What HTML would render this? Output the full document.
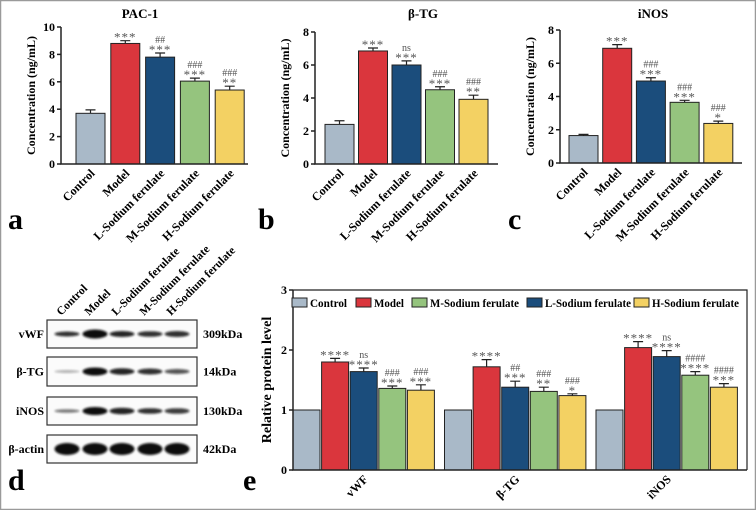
<!DOCTYPE html>
<html><head><meta charset="utf-8">
<style>
html,body{margin:0;padding:0;background:#fff;}
svg{display:block;font-family:"Liberation Serif",serif;font-weight:bold;}
</style></head>
<body>
<svg id="fig" width="756" height="510" viewBox="0 0 756 510" xmlns="http://www.w3.org/2000/svg">
<defs><filter id="blur" x="-20%" y="-50%" width="140%" height="200%"><feGaussianBlur stdDeviation="1.1"/></filter></defs>
<rect x="0.5" y="0.5" width="755" height="509" fill="#fff" stroke="#9a9a9a" stroke-width="1.5"/>
<g id="root"></g>
</svg>
<script>
const groups = ["Control","Model","L-Sodium ferulate","M-Sodium ferulate","H-Sodium ferulate"];
const colors = ["#a9b9c8","#da363d","#1b4d7c","#95c47e","#f3d163"];
const pacValues = [3.7, 8.8, 7.8, 6.05, 5.4];
const pacErrors = [0.25, 0.2, 0.3, 0.22, 0.28];
const pacMarks = ["", "***", "##\n***", "###\n***", "###\n**"];
const btgValues = [2.4, 6.85, 6.0, 4.5, 3.92];
const btgErrors = [0.22, 0.18, 0.25, 0.18, 0.25];
const btgMarks = ["", "***", "ns\n***", "###\n***", "###\n**"];
const inosValues = [1.65, 6.9, 4.93, 3.65, 2.38];
const inosErrors = [0.07, 0.22, 0.2, 0.12, 0.14];
const inosMarks = ["", "***", "###\n***", "###\n***", "###\n*"];
const proteinCats = ["vWF","β-TG","iNOS"];
const legendNames = ["Control","Model","M-Sodium ferulate","L-Sodium ferulate","H-Sodium ferulate"];
const legendColors = ["#a9b9c8","#da363d","#95c47e","#1b4d7c","#f3d163"];
const relValues = [[1,1.8,1.64,1.36,1.33],[1,1.72,1.38,1.31,1.24],[1,2.04,1.89,1.58,1.38]];
const relErrors = [[0,0.06,0.06,0.04,0.09],[0,0.12,0.1,0.07,0.03],[0,0.1,0.1,0.06,0.06]];
const relMarks = [["","****","ns\n****","###\n***","###\n***"],["","****","##\n***","###\n**","###\n*"],["","****","ns\n****","####\n****","####\n***"]];

const NS="http://www.w3.org/2000/svg";
const root=document.getElementById('root');
function mk(tag,attrs,parent,text){const e=document.createElementNS(NS,tag);for(const k in attrs)e.setAttribute(k,attrs[k]);if(text!==undefined)e.textContent=text;(parent||root).appendChild(e);return e;}

function marks(g,str,cx,ytop){
  const lines=str.split("\n");
  let yy=ytop-2;
  for(let i=lines.length-1;i>=0;i--){
    const s=lines[i];
    const star=s.indexOf('*')>=0;
    const t=mk('text',{x:cx,y:star?yy+3:yy,'text-anchor':'middle','font-size':star?13:10,fill:'#555','font-weight':'normal','font-family':'Liberation Serif','letter-spacing':star?'1':'0'},g,s);
    
    
    yy-=star?8:9;
  }
}

function panel(cfg){
  const g=mk('g',{});
  
  
  const y=v=>cfg.y0-(v/cfg.ymax)*(cfg.y0-cfg.ytop);
  const x=i=>cfg.x0+cfg.first+i*cfg.step;
  const t=mk('text',{x:cfg.titleX,y:18,'text-anchor':'middle','font-size':13},g,cfg.title);
  
  cfg.values.forEach((v,i)=>{
    const r=mk('rect',{x:x(i),y:y(v),width:cfg.bw,height:cfg.y0-y(v),fill:colors[i],stroke:'#222','stroke-width':1},g);
    
    
    const cx=x(i)+cfg.bw/2, ye=y(v+cfg.errors[i]);
    const e=mk('path',{d:`M${cx},${y(v)}V${ye}M${cx-5},${ye}H${cx+5}`,stroke:'#222','stroke-width':1.2,fill:'none'},g);
    
    if(cfg.marks[i])marks(g,cfg.marks[i],cx,ye);
    const lb=mk('text',{x:0,y:0,'text-anchor':'end','font-size':12,transform:`translate(${cx+5},${cfg.y0+10}) rotate(-45)`},g,groups[i]);
    
  });
  const ax=mk('path',{d:`M${cfg.x0},${cfg.ytop}V${cfg.y0}H${cfg.xend}`,stroke:'#222','stroke-width':1.5,fill:'none'},g);
  
  for(let v=0;v<=cfg.ymax;v+=cfg.tick){
    mk('line',{x1:cfg.x0-4,x2:cfg.x0,y1:y(v),y2:y(v),stroke:'#222','stroke-width':1.5},g);
    const tl=mk('text',{x:cfg.x0-6,y:y(v)+4,'text-anchor':'end','font-size':12},g,v);
    
  }
  const yl=mk('text',{x:0,y:0,'text-anchor':'middle','font-size':12,transform:`translate(${cfg.x0-26},${(cfg.y0+cfg.ytop)/2}) rotate(-90)`},g,'Concentration (ng/mL)');
  
  const pl=mk('text',{x:cfg.labX,y:229,'font-size':30,'font-family':'Liberation Serif'},g,cfg.letter);
  
}

panel({name:'panel-a-pac1',title:'PAC-1',titleX:140,values:pacValues,errors:pacErrors,marks:pacMarks,x0:61,xend:248,y0:164,ytop:27,ymax:10,tick:2,first:15,step:34.8,bw:29,letter:'a',labX:8});
panel({name:'panel-b-btg',title:'β-TG',titleX:423,values:btgValues,errors:btgErrors,marks:btgMarks,x0:315,xend:498,y0:164,ytop:32,ymax:8,tick:2,first:10,step:33.5,bw:29,letter:'b',labX:258});
panel({name:'panel-c-inos',title:'iNOS',titleX:653,values:inosValues,errors:inosErrors,marks:inosMarks,x0:560,xend:742,y0:163,ytop:30,ymax:8,tick:2,first:9,step:33.7,bw:29,letter:'c',labX:508});

// Panel d: western blot
(function(){
  const g=mk('g',{});
  
  const rows=[{n:'vWF',k:'309kDa',y:320,h:28,w:[2.5,4.5,3,2.8,3],o:[.85,1,.9,.85,.85]},
              {n:'β-TG',k:'14kDa',y:357,h:29,w:[1.5,4,3.2,3,2.5],o:[.3,1,.9,.85,.7]},
              {n:'iNOS',k:'130kDa',y:397,h:28,w:[1.8,4,3.3,2.8,2.8],o:[.55,1,.9,.85,.8]},
              {n:'β-actin',k:'42kDa',y:435,h:28,w:[6,6,6,6,6],o:[1,1,1,1,1]}];
  const lanes=[67,95,122,150,177];
  rows.forEach(r=>{
    const b=mk('rect',{x:47,y:r.y,width:150,height:r.h,fill:'#fbfbfb',stroke:'#333','stroke-width':1.2},g);
    
    lanes.forEach((cx,i)=>{
      mk('ellipse',{cx:cx,cy:r.y+r.h/2,rx:12.5,ry:r.w[i],fill:'#111',opacity:r.o[i],filter:'url(#blur)'},g);
    });
    const l=mk('text',{x:44,y:r.y+r.h/2+4,'text-anchor':'end','font-size':12},g,r.n);
    
    const k=mk('text',{x:203,y:r.y+r.h/2+4,'font-size':12},g,r.k);
    
  });
  groups.forEach((n,i)=>{
    const t=mk('text',{x:0,y:0,'font-size':11.5,transform:`translate(${lanes[i]-6},${316}) rotate(-45)`},g,n);
    
  });
  const pl=mk('text',{x:8,y:490,'font-size':30},g,'d');
  
})();

// Panel e
(function(){
  const g=mk('g',{});
  
  const x0=293,x1=747,y0=470,ytop=290,ymax=3;
  const y=v=>y0-(v/ymax)*(y0-ytop);
  const gstep=151.5,bstep=28.6,bw=27;
  mk('path',{d:`M${x0},${ytop}H${x1}V${y0}`,stroke:'#222','stroke-width':1.2,fill:'none'},g);
  relValues.forEach((vals,c)=>{
    vals.forEach((v,i)=>{
      const bx=x0+gstep*c+i*bstep;
      const r=mk('rect',{x:bx,y:y(v),width:bw,height:y0-y(v),fill:colors[i],stroke:'#222','stroke-width':1},g);
      
      
      const cx=bx+bw/2;
      let ye=y(v);
      if(relErrors[c][i]>0){ye=y(v+relErrors[c][i]);
        mk('path',{d:`M${cx},${y(v)}V${ye}M${cx-5},${ye}H${cx+5}`,stroke:'#222','stroke-width':1.2,fill:'none'},g);}
      if(relMarks[c][i])marks(g,relMarks[c][i],cx,ye);
    });
    const cx=x0+gstep*c+2*bstep+bw/2;
    const t=mk('text',{x:0,y:0,'text-anchor':'end','font-size':12,transform:`translate(${cx+5},${y0+10}) rotate(-45)`},g,proteinCats[c]);
    
  });
  mk('path',{d:`M${x0},${ytop}V${y0}H${x1}`,stroke:'#222','stroke-width':1.5,fill:'none'},g);
  for(let v=0;v<=ymax;v++){
    mk('line',{x1:x0-4,x2:x0,y1:y(v),y2:y(v),stroke:'#222','stroke-width':1.5},g);
    const tl=mk('text',{x:x0-6,y:y(v)+4,'text-anchor':'end','font-size':12},g,v);
    
  }
  const yl=mk('text',{x:0,y:0,'text-anchor':'middle','font-size':14,transform:`translate(${x0-22},${(y0+ytop)/2}) rotate(-90)`},g,'Relative protein level');
  
  const lx=[292,356,412,527,634];
  const lw=[37,30,89,86,87];
  legendNames.forEach((n,i)=>{
    const le=mk('g',{},g);
    
    mk('rect',{x:lx[i],y:298,width:15,height:9,fill:legendColors[i],stroke:'#222','stroke-width':1},le);
    mk('text',{x:lx[i]+18,y:307,'font-size':11.5,textLength:lw[i],lengthAdjust:'spacingAndGlyphs'},le,n);
  });
  const pl=mk('text',{x:243,y:490,'font-size':30},g,'e');
  
})();
</script>
</body></html>
